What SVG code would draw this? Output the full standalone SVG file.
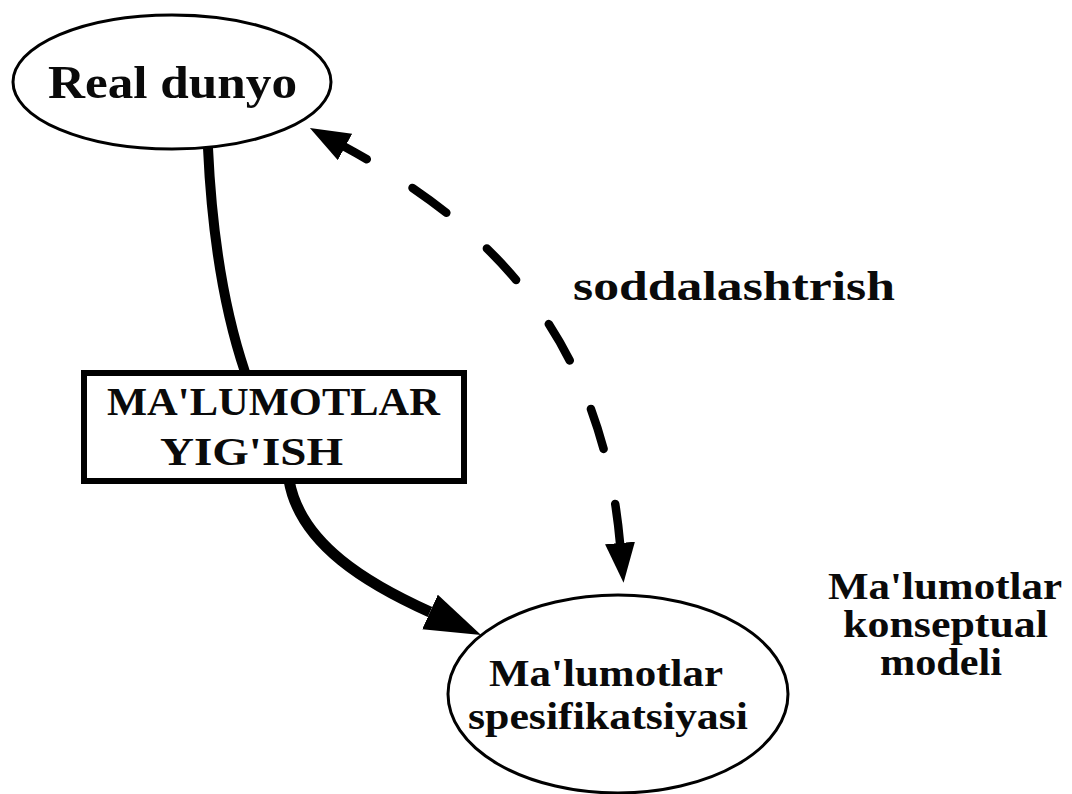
<svg xmlns="http://www.w3.org/2000/svg" width="1072" height="794" viewBox="0 0 1072 794">
  <style>
    .t { font-family: "Liberation Serif", "Times New Roman", serif; font-weight: bold; fill: #0a0a0a; }
    .node { fill: #fff; stroke: #000; }
    .conn { fill: none; stroke: #000; }
  </style>
  <defs>
    <marker id="ahS" markerUnits="userSpaceOnUse" markerWidth="42" markerHeight="32" refX="0" refY="15" orient="auto-start-reverse" viewBox="0 0 42 32">
      <path d="M0,0 L40,15 L0,30 z" fill="#000"/>
    </marker>
    <marker id="ahL" markerUnits="userSpaceOnUse" markerWidth="58" markerHeight="40" refX="0" refY="19" orient="auto" viewBox="0 0 58 40">
      <path d="M0,0 L56,19 L0,38 z" fill="#000"/>
    </marker>
  </defs>
  <rect width="1072" height="794" fill="#fff"/>

  <g id="connectors">
    <path class="conn" d="M208,148 Q214,280 245,372" stroke-width="10"/>
    <path class="conn" d="M289,480 C300,545 370,585 430,612" stroke-width="11" marker-end="url(#ahL)"/>
    <path class="conn" d="M345,147 C470,215 600,320 620,543" stroke-width="8.5" stroke-linecap="round" stroke-dasharray="25 54 42 54 43 55 42 53 42 56 60" marker-start="url(#ahS)" marker-end="url(#ahS)"/>
  </g>

  <g id="real-dunyo">
    <ellipse class="node" cx="172" cy="82" rx="159" ry="67" stroke-width="3"/>
    <text class="t" x="48" y="98" font-size="47" textLength="249" lengthAdjust="spacingAndGlyphs">Real dunyo</text>
  </g>

  <g id="malumotlar-yigish">
    <rect class="node" x="84" y="373" width="380" height="108" stroke-width="6"/>
    <text class="t" x="107" y="415" font-size="40" textLength="333" lengthAdjust="spacingAndGlyphs">MA'LUMOTLAR</text>
    <text class="t" x="160" y="465" font-size="40" textLength="183" lengthAdjust="spacingAndGlyphs">YIG'ISH</text>
  </g>

  <g id="malumotlar-spesifikatsiyasi">
    <ellipse class="node" cx="618" cy="694" rx="170" ry="99" stroke-width="3"/>
    <text class="t" x="489" y="686" font-size="38" textLength="234" lengthAdjust="spacingAndGlyphs">Ma'lumotlar</text>
    <text class="t" x="468" y="729" font-size="38" textLength="280" lengthAdjust="spacingAndGlyphs">spesifikatsiyasi</text>
  </g>

  <g id="soddalashtrish-label">
    <text class="t" x="573" y="300" font-size="42" textLength="322" lengthAdjust="spacingAndGlyphs">soddalashtrish</text>
  </g>

  <g id="konseptual-model-label">
    <text class="t" x="828" y="599" font-size="37" textLength="234" lengthAdjust="spacingAndGlyphs">Ma'lumotlar</text>
    <text class="t" x="843" y="637" font-size="37" textLength="205" lengthAdjust="spacingAndGlyphs">konseptual</text>
    <text class="t" x="880" y="675" font-size="37" textLength="122" lengthAdjust="spacingAndGlyphs">modeli</text>
  </g>
</svg>
